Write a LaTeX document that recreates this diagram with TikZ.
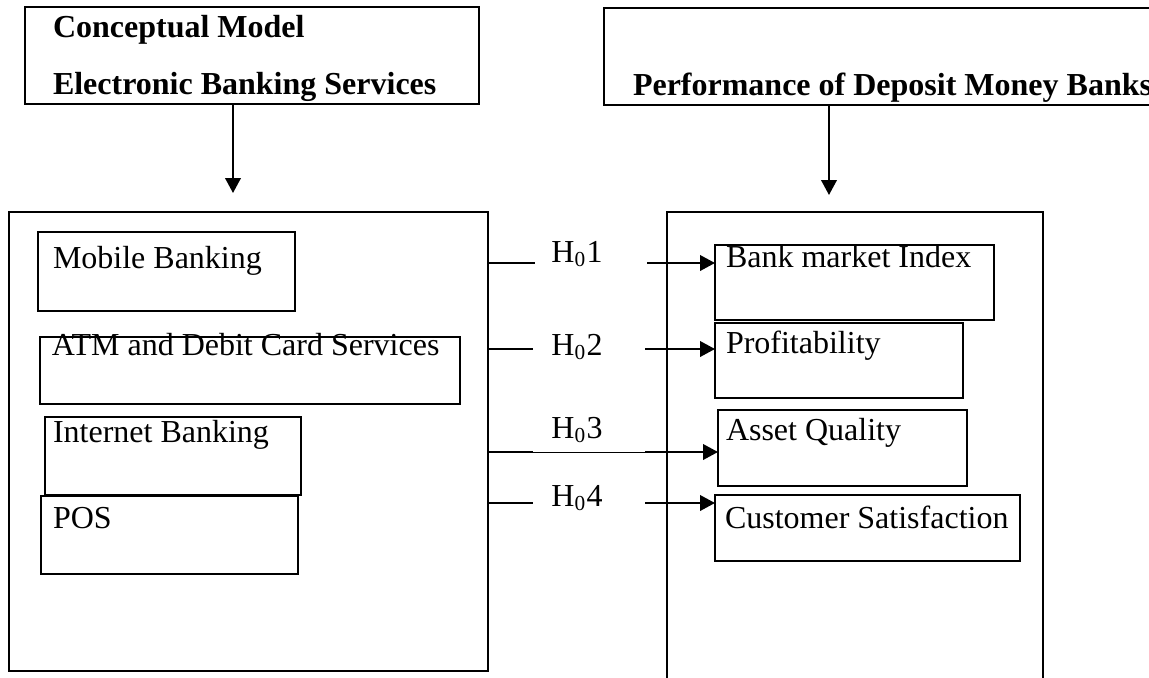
\documentclass[tikz,border=0pt]{standalone}
\usepackage{fontspec}
\setmainfont{Liberation Serif}
\usetikzlibrary{arrows.meta}
\begin{document}
\begin{tikzpicture}[x=0.375pt,y=-0.375pt,
  box/.style={draw,line width=0.75pt,anchor=north west,inner ysep=0pt,outer sep=0pt,align=flush left,font=\fontsize{12}{14}\selectfont},
  head/.style={box,font=\fontsize{12}{21.375}\selectfont\bfseries},
  frame/.style={draw,line width=0.75pt,anchor=north west,inner sep=0pt,outer sep=0pt},
  link/.style={line width=0.8pt},
  arr/.style={line width=0.8pt,-{Triangle[length=5.6pt,width=5.8pt]}},
  hyp/.style={inner sep=0pt,anchor=base,font=\fontsize{12}{14}\selectfont}]
  \useasboundingbox (0,0) rectangle (1149,677);

  \node[head,inner xsep=10.5pt,text width=149.25pt,text height=11.25pt,text depth=25.125pt] (ebs) at (25,7) {Conceptual Model\\Electronic Banking Services};
  \node[head,inner xsep=10.875pt,text width=201.75pt,text height=32.625pt,text depth=3.75pt] (pdmb) at (604,8) {Performance of Deposit Money Banks};

  \node[frame,minimum width=179.625pt,minimum height=172.125pt] (esvc) at (9,212) {};
  \node[frame,minimum width=141pt,minimum height=183pt] (perf) at (667,212) {};

  \coordinate (d1) at (233,193);
  \coordinate (d2) at (829,195);
  \draw[arr] (ebs.south -| d1) -- (d1);
  \draw[arr] (pdmb.south -| d2) -- (d2);

  \node[box,inner xsep=5.625pt,text width=85.125pt,text height=13.5pt,text depth=16.125pt] (mob) at (38,232) {Mobile Banking};
  \node[box,inner xsep=4.5pt,text width=148.5pt,text height=6.75pt,text depth=18.375pt] (atm) at (40,337) {ATM and Debit Card Services};
  \node[box,inner xsep=3pt,text width=90pt,text height=9.375pt,text depth=19.875pt] (inet) at (45,417) {Internet Banking};
  \node[box,inner xsep=4.5pt,text width=87.375pt,text height=12pt,text depth=17.25pt] (pos) at (41,496) {POS};

  \node[box,inner xsep=4.125pt,text width=96.375pt,text height=8.25pt,text depth=19.875pt] (bmi) at (715,245) {Bank market Index};
  \node[box,inner xsep=4.125pt,text width=84.75pt,text height=11.25pt,text depth=16.875pt] (prof) at (715,323) {Profitability};
  \node[box,inner xsep=3pt,text width=87.375pt,text height=11.25pt,text depth=17.25pt] (aq) at (718,410) {Asset Quality};
  \node[box,inner xsep=3.75pt,text width=106.875pt,text height=12.375pt,text depth=12.375pt] (cs) at (715,495) {Customer Satisfaction};

  \foreach \n/\yl/\yb/\gl/\gr/\tgt in {1/263/262/535/647/bmi,2/349/355/533/645/prof,3/452/438/533/645/aq,4/503/506/533/645/cs}{
    \node[hyp] (h\n) at (577,\yb) {H\textsubscript{0}\n};
    \coordinate (l\n) at (\gl,\yl);
    \coordinate (r\n) at (\gr,\yl);
    \draw[link] (esvc.east |- l\n) -- (l\n);
    \draw[arr] (r\n) -- (\tgt.west |- r\n);
  }
  \draw[line width=0.3pt] (l3) -- (r3);
\end{tikzpicture}
\end{document}
